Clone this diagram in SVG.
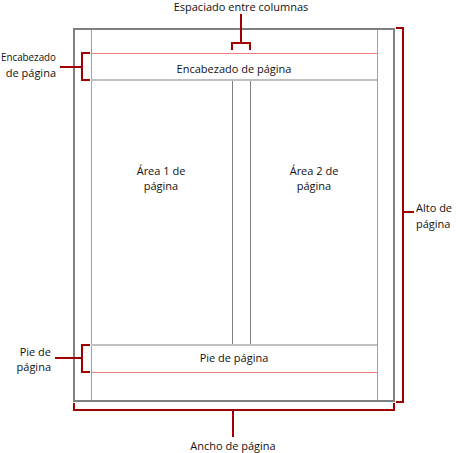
<svg xmlns="http://www.w3.org/2000/svg" width="456" height="453" viewBox="0 0 456 453">
<style>
text{font-family:"Open Sans","Noto Sans","Liberation Sans",sans-serif;font-size:11px;fill:#111}
.c{text-anchor:middle}.r{text-anchor:end}.l{text-anchor:start}
.page{fill:#fff;stroke:#808080;stroke-width:2}
.pink{stroke:#f08080;stroke-width:1;fill:none}
.lg{stroke:#c0c0c0;stroke-width:2;fill:none}
.col{stroke:#808080;stroke-width:1;fill:none}
.br{stroke:#a00000;stroke-width:2;fill:none}
</style>
<rect width="456" height="453" fill="#fff"/>
<g id="page">
<rect class="page" x="74" y="29" width="320" height="372"/>
<line class="pink" x1="91.5" y1="30" x2="91.5" y2="400"/>
<line class="pink" x1="377.5" y1="30" x2="377.5" y2="400"/>
</g>
<g id="header">
<line class="pink" x1="91" y1="53.5" x2="377" y2="53.5"/>
<line class="lg" x1="91" y1="80" x2="377" y2="80"/>
<text class="c" x="234" y="73">Encabezado de página</text>
</g>
<g id="area1">
<text class="c" x="161" y="175">Área 1 de</text>
<text class="c" x="161" y="190">página</text>
</g>
<g id="area2">
<text class="c" x="314" y="175">Área 2 de</text>
<text class="c" x="314" y="190">página</text>
</g>
<g id="columns">
<line class="col" x1="232.5" y1="81" x2="232.5" y2="344"/>
<line class="col" x1="250.5" y1="81" x2="250.5" y2="344"/>
</g>
<g id="footer">
<line class="lg" x1="91" y1="345" x2="377" y2="345"/>
<line class="pink" x1="91" y1="372.5" x2="377" y2="372.5"/>
<text class="c" x="234" y="362">Pie de página</text>
</g>
<g id="connectors">
<path class="br" d="M90,53 H82 V80 H90 M82,67 H60"/>
<path class="br" d="M232,50 V43 H250 V50 M241,43 V14"/>
<path class="br" d="M396,28 H403 V402 H396 M403,212 H414"/>
<path class="br" d="M74,403 V410 H394 V403 M233,410 V437"/>
<path class="br" d="M90,345 H82 V372 H90 M82,358 H55"/>
</g>
<g id="labels">
<text class="c" x="241" y="11">Espaciado entre columnas</text>
<text class="r" x="56" y="61" textLength="55" lengthAdjust="spacingAndGlyphs">Encabezado</text>
<text class="r" x="56" y="77">de página</text>
<text class="r" x="51" y="356">Pie de</text>
<text class="r" x="51" y="371">página</text>
<text class="l" x="416" y="212">Alto de</text>
<text class="l" x="416" y="228">página</text>
<text class="c" x="233" y="450">Ancho de página</text>
</g>
</svg>
